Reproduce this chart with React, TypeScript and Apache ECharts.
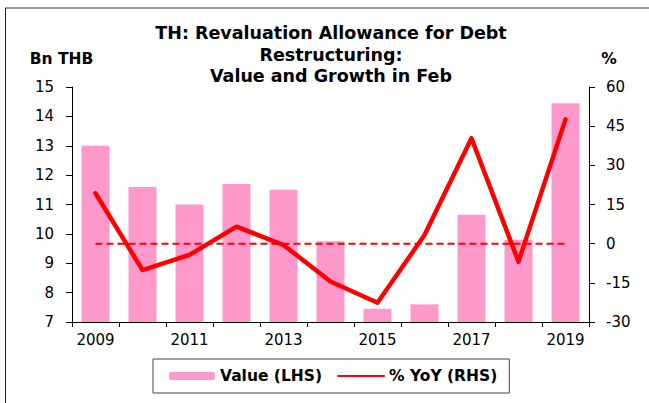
import React, { useEffect, useRef } from "react";
import * as echarts from "echarts";

const years = ["2009", "2010", "2011", "2012", "2013", "2014", "2015", "2016", "2017", "2018", "2019"];
const valueBn = [13.0, 11.6, 11.0, 11.7, 11.5, 9.75, 7.45, 7.6, 10.65, 9.8, 14.45];
const yoyPct = [19.3, -10.1, -4.3, 6.5, -0.5, -14.5, -22.6, 3.3, 40.4, -6.9, 47.6];
const zeroLine = [0, 0, 0, 0, 0, 0, 0, 0, 0, 0, 0];
const titleLines = ["TH: Revaluation Allowance for Debt", "Restructuring:", "Value and Growth in Feb"];

const FONT = "DejaVu Sans";

export default function App() {
  const ref = useRef<HTMLDivElement>(null);
  useEffect(() => {
    if (!ref.current) return;
    const chart = echarts.init(ref.current, undefined, { renderer: "svg" });
    chart.setOption({
      animation: false,
      backgroundColor: "#ffffff",
      textStyle: { fontFamily: FONT },
      grid: { left: 72, right: 60, top: 87, bottom: 81 },
      graphic: [
        { type: "line", shape: { x1: 5, y1: 8, x2: 649, y2: 8 }, style: { stroke: "#9a9a9a", lineWidth: 2 } },
        { type: "line", shape: { x1: 5.5, y1: 8, x2: 5.5, y2: 403 }, style: { stroke: "#222", lineWidth: 1 } },
        ...titleLines.map((t, i) => ({
          type: "text",
          x: 331,
          y: 33 + i * 21.5,
          style: {
            text: t,
            fontFamily: FONT,
            fontWeight: "bold",
            fontSize: 17.5,
            fill: "#000",
            textAlign: "center",
            textVerticalAlign: "middle",
          },
        })),
        {
          type: "text",
          x: 61.5,
          y: 59,
          style: { text: "Bn THB", fontFamily: FONT, fontWeight: "bold", fontSize: 15.5, fill: "#000", textAlign: "center", textVerticalAlign: "middle" },
        },
        {
          type: "text",
          x: 609,
          y: 59,
          style: { text: "%", fontFamily: FONT, fontWeight: "bold", fontSize: 15.5, fill: "#000", textAlign: "center", textVerticalAlign: "middle" },
        },
      ],
      legend: {
        data: [
          { name: "Value (LHS)" },
          { name: "% YoY (RHS)", itemStyle: { opacity: 0, borderWidth: 0 } },
        ],
        left: 153,
        top: 359,
        orient: "horizontal",
        padding: [8, 12, 8, 16],
        itemGap: 15,
        itemWidth: 46,
        itemHeight: 8,
        borderColor: "#444",
        borderWidth: 1,
        textStyle: { fontFamily: FONT, fontWeight: "bold", fontSize: 15.5, color: "#000", lineHeight: 18 },
      },
      xAxis: {
        type: "category",
        data: years,
        boundaryGap: true,
        axisLine: { onZero: false, lineStyle: { color: "#000", width: 1 } },
        axisTick: { show: true, interval: 0, length: 5, lineStyle: { color: "#000" } },
        axisLabel: { interval: 1, color: "#000", fontSize: 15, fontFamily: FONT, margin: 10 },
        splitLine: { show: false },
      },
      yAxis: [
        {
          type: "value",
          min: 7,
          max: 15,
          interval: 1,
          position: "left",
          axisLine: { show: true, lineStyle: { color: "#000", width: 1 } },
          axisTick: { show: true, length: 6, lineStyle: { color: "#000" } },
          axisLabel: { color: "#000", fontSize: 15, fontFamily: FONT, margin: 18 },
          splitLine: { show: false },
        },
        {
          type: "value",
          min: -30,
          max: 60,
          interval: 15,
          position: "right",
          axisLine: { show: true, lineStyle: { color: "#000", width: 1 } },
          axisTick: { show: true, length: 6, lineStyle: { color: "#000" } },
          axisLabel: { color: "#000", fontSize: 15, fontFamily: FONT, margin: 17 },
          splitLine: { show: false },
        },
      ],
      series: [
        {
          name: "Value (LHS)",
          type: "bar",
          yAxisIndex: 0,
          data: valueBn,
          barWidth: 28,
          itemStyle: { color: "#ff99cc" },
        },
        {
          name: "zero",
          type: "line",
          yAxisIndex: 1,
          data: zeroLine,
          symbol: "none",
          silent: true,
          lineStyle: { color: "#ff0000", width: 2, type: [7, 4] },
        },
        {
          name: "% YoY (RHS)",
          type: "line",
          yAxisIndex: 1,
          data: yoyPct,
          symbol: "none",
          lineStyle: { color: "#ff0000", width: 4.5, join: "round", cap: "round" },
          itemStyle: { color: "#ff0000" },
        },
      ],
    });
    return () => chart.dispose();
  }, []);
  return (
    <div
      ref={ref}
      style={{ position: "absolute", left: 0, top: 0, width: 649, height: 403 }}
    />
  );
}
